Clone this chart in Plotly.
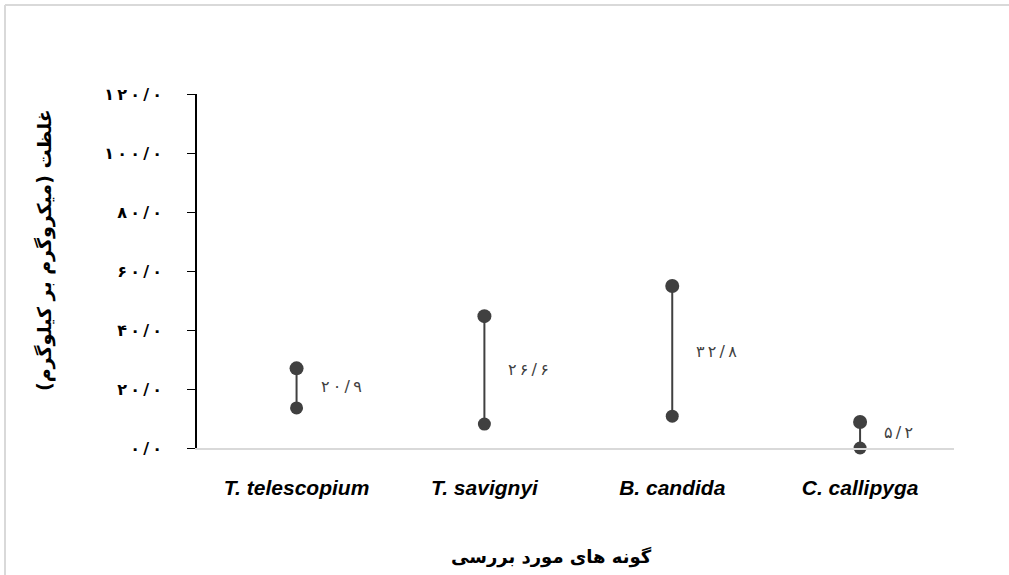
import plotly.graph_objects as go

categories = ["T. telescopium", "T. savignyi", "B. candida", "C. callipyga"]
high_values = [27.0, 44.7, 54.9, 8.8]
low_values = [13.6, 8.1, 10.8, 0.0]
label_values = [20.9, 26.6, 32.8, 5.2]
y_ticks = [0, 20, 40, 60, 80, 100, 120]

FA = str.maketrans("0123456789.", "۰۱۲۳۴۵۶۷۸۹/")
TS = "\u2009"


def fa(v):
    return TS.join(f"{v:.1f}".translate(FA))


dark = "#404040"
fig = go.Figure()

# connecting lines
lx, ly = [], []
for c, h, l in zip(categories, high_values, low_values):
    lx += [c, c, None]
    ly += [l, h, None]
fig.add_trace(go.Scatter(x=lx, y=ly, mode="lines", line=dict(color=dark, width=2),
                         hoverinfo="skip", showlegend=False, cliponaxis=False))
fig.add_trace(go.Scatter(x=categories, y=high_values, mode="markers",
                         marker=dict(color=dark, size=14, symbol="circle"),
                         showlegend=False, cliponaxis=False))
fig.add_trace(go.Scatter(x=categories, y=low_values, mode="markers",
                         marker=dict(color=dark, size=13, symbol="circle"),
                         showlegend=False, cliponaxis=False))
fig.add_trace(go.Scatter(x=categories, y=low_values, mode="markers",
                         marker=dict(color="rgba(0,0,0,0)", size=5, symbol="circle-open",
                                     line=dict(color="#a8a8a8", width=1.5)),
                         showlegend=False, cliponaxis=False, hoverinfo="skip"))

for c, v in zip(categories, label_values):
    fig.add_annotation(x=c, y=v, text=fa(v), showarrow=False, xanchor="left",
                       xshift=22, font=dict(family="DejaVu Sans", size=16, color=dark))

L, R, T, B = 197, 55, 94, 127
W, H = 1009, 575
pw, ph = W - L - R, H - T - B

# outer frame (light gray)
bx = (5 - L) / pw
by = 1 + (T - 5) / ph
fig.add_shape(type="line", xref="paper", yref="paper", x0=bx, x1=(W - L) / pw, y0=by, y1=by,
              line=dict(color="#d9d9d9", width=2))
fig.add_shape(type="line", xref="paper", yref="paper", x0=bx, x1=bx, y0=by, y1=-(B) / ph,
              line=dict(color="#d9d9d9", width=2))

# axis titles
fig.add_annotation(xref="paper", yref="paper", x=(45 - L) / pw, y=1 - (250 - T) / ph,
                   xanchor="center", yanchor="middle",
                   text="غلظت (میکروگرم بر کیلوگرم)", textangle=-90, showarrow=False,
                   font=dict(family="DejaVu Sans", size=19, color="#000000", weight="bold"))
fig.add_annotation(xref="paper", yref="paper", x=(551 - L) / pw, y=-(557 - (H - B)) / ph,
                   yanchor="middle", text="گونه های مورد بررسی", showarrow=False,
                   font=dict(family="DejaVu Sans", size=18, color="#000000", weight="bold"))

fig.update_layout(
    width=W, height=H, margin=dict(l=L, r=R, t=T, b=B),
    plot_bgcolor="white", paper_bgcolor="white",
    xaxis=dict(type="category", range=[-0.53, 3.5], showgrid=False, zeroline=False,
               showline=True, linecolor="#d9d9d9", linewidth=2, ticks="",
               ticklabelstandoff=20,
               tickfont=dict(family="Liberation Sans", size=21,
                             color="#000000", weight="bold", style="italic")),
    yaxis=dict(range=[0, 120], tickvals=y_ticks, ticktext=[fa(v) for v in y_ticks],
               showgrid=False, zeroline=False, showline=True, linecolor="#000000",
               linewidth=1.5, ticks="outside", ticklen=8, tickcolor="#000000",
               ticklabelstandoff=22,
               tickfont=dict(family="DejaVu Sans", size=16, color="#000000", weight="bold")),
)

fig.write_html("out.html", config={"displayModeBar": False},
               post_script="document.body.style.margin='0';")
